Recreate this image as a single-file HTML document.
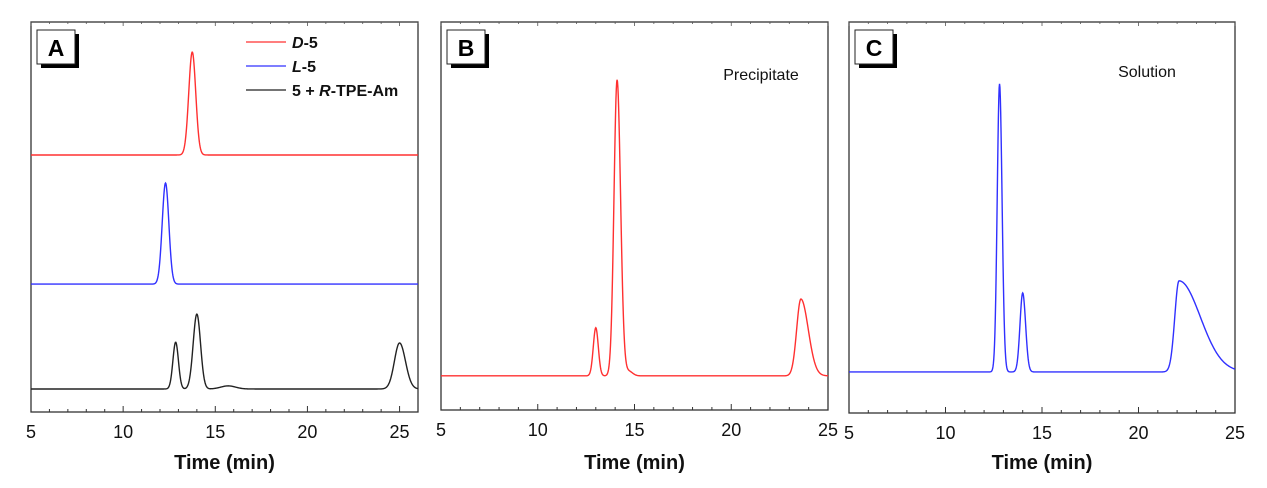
<!DOCTYPE html>
<html><head><meta charset="utf-8">
<style>
body{margin:0;background:#fff;}
svg{display:block;font-family:"Liberation Sans",Arial,sans-serif;}
</style></head>
<body>
<svg id="chart" width="1267" height="488" viewBox="0 0 1267 488"></svg>
<script>
// ---- Data ----
const panelIds = ["A","B","C"];
const xDomains = [[5,26],[5,25],[5,25]];
const xTickLabels = [[5,10,15,20,25],[5,10,15,20,25],[5,10,15,20,25]];
// series: baseline level, peak times, heights, left widths, right widths
const seriesNames = ["D-5","L-5","5 + R-TPE-Am","Precipitate","Solution"];
const seriesPanel = [0,0,0,1,2];
const seriesColors = ["#ff3030","#3030ff","#222222","#ff3030","#3030ff"];
const baselines = [0.659,0.328,0.059,0.088,0.105];
const peakTimes = [[13.75],[12.3],[12.85,14.0,15.7,25.0],[13.0,14.1,14.7,23.6],[12.8,14.0,22.1]];
const peakHeights = [[0.264],[0.259],[0.12,0.192,0.008,0.118],[0.124,0.763,0.012,0.198],[0.737,0.202,0.233]];
const peakLeft = [[0.19],[0.18],[0.15,0.2,0.4,0.28],[0.13,0.16,0.2,0.22],[0.12,0.14,0.22]];
const peakRight = [[0.19],[0.18],[0.15,0.2,0.4,0.32],[0.13,0.18,0.2,0.38],[0.13,0.15,1.1]];

// ---- Layout ----
const frames = [{x0:31,x1:418,y0:22,y1:412},{x0:441,x1:828,y0:22,y1:410},{x0:849,x1:1235,y0:22,y1:413}];
const NS = "http://www.w3.org/2000/svg";
const svg = document.getElementById("chart");
function mk(tag, attrs, parent){
  const e = document.createElementNS(NS, tag);
  for (const k in attrs) e.setAttribute(k, attrs[k]);
  (parent||svg).appendChild(e); return e;
}
function xs(p,v){const f=frames[p],d=xDomains[p];return f.x0+(v-d[0])/(d[1]-d[0])*(f.x1-f.x0);}
function ys(p,v){const f=frames[p];return f.y1-v*(f.y1-f.y0);}

frames.forEach((f,p)=>{
  const g = mk("g",{});
  
  
  const fr = mk("rect",{x:f.x0,y:f.y0,width:f.x1-f.x0,height:f.y1-f.y0,fill:"none",stroke:"#333","stroke-width":1.3},g);
  
  
  const d = xDomains[p];
  for (let t=Math.ceil(d[0]); t<=d[1]; t++){
    const major = t%5===0, x = xs(p,t), L = major?6:3;
    const tk = mk("line",{x1:x,x2:x,y1:f.y1,y2:f.y1-L,stroke:"#333","stroke-width":1},g);
    
    
    mk("line",{x1:x,x2:x,y1:f.y0,y2:f.y0+(major?4:2),stroke:"#555","stroke-width":0.8},g);
  }
  xTickLabels[p].forEach(v=>{
    const t = mk("text",{x:xs(p,v),y:f.y1+26,"text-anchor":"middle","font-size":18,fill:"#111"},g);
    t.textContent = v;
    
    
  });
  const at = mk("text",{x:(f.x0+f.x1)/2,y:469,"text-anchor":"middle","font-size":20,"font-weight":"bold",fill:"#111"},g);
  at.textContent = "Time (min)";
  
  
  // panel label box
  const bx = f.x0+6, by = f.y0+8;
  mk("rect",{x:bx+4,y:by+4,width:38,height:34,fill:"#000"},g);
  const lb = mk("rect",{x:bx,y:by,width:38,height:34,fill:"#fff",stroke:"#222","stroke-width":1},g);
  
  
  const lt = mk("text",{x:bx+19,y:by+26,"text-anchor":"middle","font-size":23,"font-weight":"bold",fill:"#000"},g);
  lt.textContent = panelIds[p];
  
  
});

// series curves
seriesNames.forEach((nm,s)=>{
  const p = seriesPanel[s], d = xDomains[p];
  let pts = [];
  for (let t=d[0]; t<=d[1]+1e-9; t+=0.02){
    let v = baselines[s];
    peakTimes[s].forEach((pt,i)=>{
      const w = t<pt?peakLeft[s][i]:peakRight[s][i];
      v += peakHeights[s][i]*Math.exp(-0.5*((t-pt)/w)**2);
    });
    pts.push(xs(p,t).toFixed(2)+","+ys(p,v).toFixed(2));
  }
  const pl = mk("polyline",{points:pts.join(" "),fill:"none",stroke:seriesColors[s],"stroke-width":1.4});
  
  
});

// legend for panel A
const legend = mk("g",{});


const legLabels = [["D","-5"],["L","-5"]];
[0,1,2].forEach(i=>{
  const y = 42+i*24;
  mk("line",{x1:246,x2:286,y1:y,y2:y,stroke:seriesColors[i],"stroke-width":1.3},legend);
  const t = mk("text",{x:292,y:y+6,"font-size":16,"font-weight":"bold",fill:"#111"},legend);
  
  
  if (i<2){
    t.innerHTML = '<tspan font-style="italic">'+legLabels[i][0]+'</tspan>'+legLabels[i][1];
  } else {
    t.innerHTML = '5 + <tspan font-style="italic">R</tspan>-TPE-Am';
  }
});
// annotations
const a1 = mk("text",{x:761,y:80,"text-anchor":"middle","font-size":16,fill:"#111"});
a1.textContent="Precipitate";


const a2 = mk("text",{x:1147,y:77,"text-anchor":"middle","font-size":16,fill:"#111"});
a2.textContent="Solution";


</script>
</body></html>
